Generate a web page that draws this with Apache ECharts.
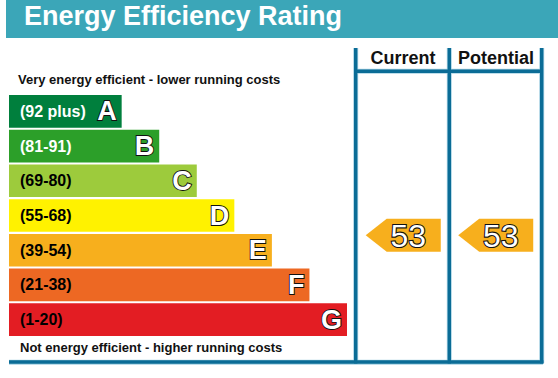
<!DOCTYPE html>
<html>
<head>
<meta charset="utf-8">
<script src="https://cdn.jsdelivr.net/npm/echarts@6/dist/echarts.min.js"></script>
<style>html,body{margin:0;padding:0;background:#fff}#c{width:558px;height:378px}</style>
</head>
<body>
<div id="c"></div>
<script>
// ---- data ----
var titleText = 'Energy Efficiency Rating';
var columns = ['Current', 'Potential'];
var ratings = ['A', 'B', 'C', 'D', 'E', 'F', 'G'];
var ranges = ['(92 plus)', '(81-91)', '(69-80)', '(55-68)', '(39-54)', '(21-38)', '(1-20)'];
var bandMin = [92, 81, 69, 55, 39, 21, 1];
var bandMax = [100, 91, 80, 68, 54, 38, 20];
var barLengths = [3, 4, 5, 6, 7, 8, 9];
var scores = [53, 53]; // current, potential
var topNote = 'Very energy efficient - lower running costs';
var bottomNote = 'Not energy efficient - higher running costs';

// ---- styles ----
var bandColors = ['#007f3d', '#2c9f29', '#9dcb3c', '#fff200', '#f7af1d', '#ed6823', '#e31d23'];
var rangeTextColors = ['#fff', '#fff', '#000', '#000', '#000', '#000', '#000'];
var arrowColor = '#f7af1d';
var lineColor = '#0b6c96';
var FONT = '"Liberation Sans", Arial, sans-serif';

function bandIndex(v) {
  for (var i = 0; i < bandMin.length; i++) if (v >= bandMin[i]) return i;
  return bandMin.length - 1;
}

var chart = echarts.init(document.getElementById('c'), null, {renderer: 'svg'});

var gridTop = 94, gridHeight = 243;

var option = {
  animation: false,
  textStyle: {fontFamily: FONT},
  grid: [
    {left: 9, width: 338, top: gridTop, height: gridHeight},
    {left: 356, width: 185, top: gridTop, height: gridHeight}
  ],
  xAxis: [
    {gridIndex: 0, type: 'value', min: 0, max: 9, show: false},
    {gridIndex: 1, type: 'category', data: columns, show: false}
  ],
  yAxis: [
    {gridIndex: 0, type: 'category', data: ratings, inverse: true, show: false},
    {gridIndex: 1, type: 'category', data: ratings, inverse: true, show: false}
  ],
  graphic: [
    {type: 'rect', shape: {x: 6, y: 0, width: 552, height: 38}, style: {fill: '#3ba6b8'}, silent: true},
    {type: 'text', x: 24, y: 16, style: {text: titleText, fill: '#fff', font: 'bold 27px ' + FONT, textVerticalAlign: 'middle'}},
    {type: 'text', x: 18, y: 79, style: {text: topNote, fill: '#111', font: 'bold 13px ' + FONT, textVerticalAlign: 'middle'}},
    {type: 'text', x: 20, y: 347, style: {text: bottomNote, fill: '#111', font: 'bold 13px ' + FONT, textVerticalAlign: 'middle'}},
    {type: 'text', x: 403, y: 58, style: {text: columns[0], fill: '#111', font: 'bold 18px ' + FONT, textAlign: 'center', textVerticalAlign: 'middle'}},
    {type: 'text', x: 496, y: 58, style: {text: columns[1], fill: '#111', font: 'bold 18px ' + FONT, textAlign: 'center', textVerticalAlign: 'middle'}},
    // light halos
    {type: 'line', shape: {x1: 355.7, y1: 48, x2: 355.7, y2: 363}, style: {stroke: '#a9d3e4', lineWidth: 5}},
    {type: 'line', shape: {x1: 449.3, y1: 48, x2: 449.3, y2: 363}, style: {stroke: '#a9d3e4', lineWidth: 5}},
    {type: 'line', shape: {x1: 541.7, y1: 48, x2: 541.7, y2: 363}, style: {stroke: '#a9d3e4', lineWidth: 5}},
    {type: 'line', shape: {x1: 355, y1: 71.3, x2: 542, y2: 71.3}, style: {stroke: '#a9d3e4', lineWidth: 5}},
    {type: 'line', shape: {x1: 9, y1: 362.3, x2: 543, y2: 362.3}, style: {stroke: '#a9d3e4', lineWidth: 5}},
    // dark lines
    {type: 'line', shape: {x1: 355.7, y1: 48, x2: 355.7, y2: 363.5}, style: {stroke: lineColor, lineWidth: 3.4}},
    {type: 'line', shape: {x1: 449.3, y1: 48, x2: 449.3, y2: 363.5}, style: {stroke: lineColor, lineWidth: 3.4}},
    {type: 'line', shape: {x1: 541.7, y1: 48, x2: 541.7, y2: 363.5}, style: {stroke: lineColor, lineWidth: 3.4}},
    {type: 'line', shape: {x1: 355, y1: 71.3, x2: 543, y2: 71.3}, style: {stroke: lineColor, lineWidth: 3.4}},
    {type: 'line', shape: {x1: 9, y1: 362, x2: 543.4, y2: 362}, style: {stroke: lineColor, lineWidth: 3.4}}
  ],
  series: [
    {
      type: 'bar', xAxisIndex: 0, yAxisIndex: 0, barWidth: '94%',
      data: barLengths.map(function (v, i) {
        return {value: v, itemStyle: {color: bandColors[i]},
          label: {color: rangeTextColors[i]}};
      }),
      label: {
        show: true, position: [11, '50%'], verticalAlign: 'middle',
        fontFamily: FONT, fontWeight: 'bold', fontSize: 16,
        formatter: function (p) { return ranges[p.dataIndex]; }
      }
    },
    {
      type: 'bar', xAxisIndex: 0, yAxisIndex: 0, barWidth: '94%', barGap: '-100%',
      data: barLengths.slice(),
      itemStyle: {color: 'rgba(0,0,0,0)'},
      label: {
        show: true, position: 'insideRight', distance: 5,
        fontFamily: FONT, fontWeight: 'bold', fontSize: 27,
        color: '#fff', textBorderColor: '#111', textBorderWidth: 1.8,
        formatter: function (p) { return ratings[p.dataIndex]; }
      }
    },
    {
      type: 'custom', xAxisIndex: 1, yAxisIndex: 1,
      data: scores.map(function (s, i) { return [i, s]; }),
      renderItem: function (params, api) {
        var col = api.value(0), val = api.value(1);
        var bi = bandIndex(val);
        var c = api.coord([col, bi]);
        var sz = api.size([1, 1]);
        var w = sz[0], bh = sz[1];
        var frac = (bandMax[bi] - val) / (bandMax[bi] - bandMin[bi]);
        var cy = c[1] - bh / 2 + frac * bh;
        var cx = c[0];
        var h = 33;
        var right = cx + 0.416 * w, left = cx - 0.168 * w, tip = cx - 0.395 * w;
        return {
          type: 'group',
          children: [
            {type: 'polygon', shape: {points: [[right, cy - h / 2], [left, cy - h / 2], [tip, cy], [left, cy + h / 2], [right, cy + h / 2]]},
              style: {fill: arrowColor}},
            {type: 'text', x: cx + 0.065 * w, y: cy + 1,
              style: {text: String(val), fill: '#fff', stroke: '#111', lineWidth: 2.2,
                font: 'normal 32px ' + FONT, textAlign: 'center', textVerticalAlign: 'middle'}}
          ]
        };
      }
    }
  ]
};
chart.setOption(option);
</script>
</body>
</html>
